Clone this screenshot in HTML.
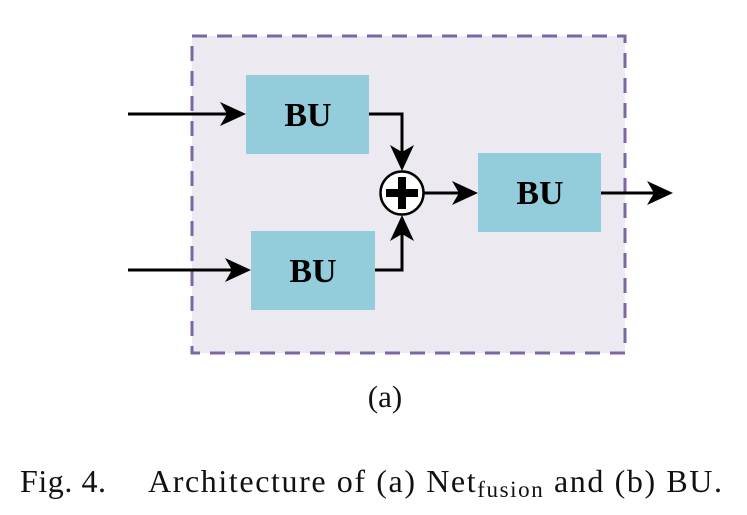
<!DOCTYPE html>
<html><head><meta charset="utf-8"><style>
html,body{margin:0;padding:0;background:#fff;}
svg{display:block;}
</style></head><body>
<svg width="747" height="515" viewBox="0 0 747 515" xmlns="http://www.w3.org/2000/svg">
<rect x="192" y="36" width="433" height="317" fill="#ece9f1" stroke="#7d66a6" stroke-width="3" stroke-dasharray="15,10"/>
<rect x="246" y="75" width="123" height="79" fill="#93cddb"/>
<rect x="251" y="231" width="124" height="79" fill="#93cddb"/>
<rect x="478" y="153" width="123" height="79" fill="#93cddb"/>
<g font-family="Liberation Serif, serif" font-weight="bold" font-size="34" fill="#000" text-anchor="middle">
<text x="308" y="126">BU</text>
<text x="313" y="282">BU</text>
<text x="540" y="204">BU</text>
</g>
<g stroke="#000" stroke-width="3" fill="none">
<line x1="128" y1="114" x2="230" y2="114"/>
<line x1="128" y1="270" x2="235" y2="270"/>
<polyline points="369,114 402,114 402,155"/>
<polyline points="375,270 402,270 402,232"/>
<line x1="423" y1="193" x2="462" y2="193"/>
<line x1="601" y1="193" x2="655" y2="193"/>
</g>
<g fill="#000">
<polygon points="246,114 220,102 227,114 220,126"/>
<polygon points="251,270 225,258 232,270 225,282"/>
<polygon points="402,171 390,145 402,152 414,145"/>
<polygon points="402,215 390,241 402,234 414,241"/>
<polygon points="478,193 452,181 459,193 452,205"/>
<polygon points="673,193 647,181 654,193 647,205"/>
</g>
<circle cx="402" cy="193" r="21.5" fill="#fff" stroke="#000" stroke-width="2.5"/>
<rect x="386" y="189" width="32" height="8" fill="#000"/>
<rect x="398" y="177" width="8" height="32" fill="#000"/>
<g font-family="Liberation Serif, serif" fill="#111">
<text x="385" y="407" font-size="31" text-anchor="middle">(a)</text>
<text x="20" y="492" font-size="32" textLength="86" lengthAdjust="spacing">Fig. 4.</text>
<text x="148" y="492" font-size="32" textLength="574" lengthAdjust="spacing">Architecture of (a) Net<tspan font-size="23" dy="5">fusion</tspan><tspan dy="-5"> and (b) BU.</tspan></text>
</g>
</svg>
</body></html>
